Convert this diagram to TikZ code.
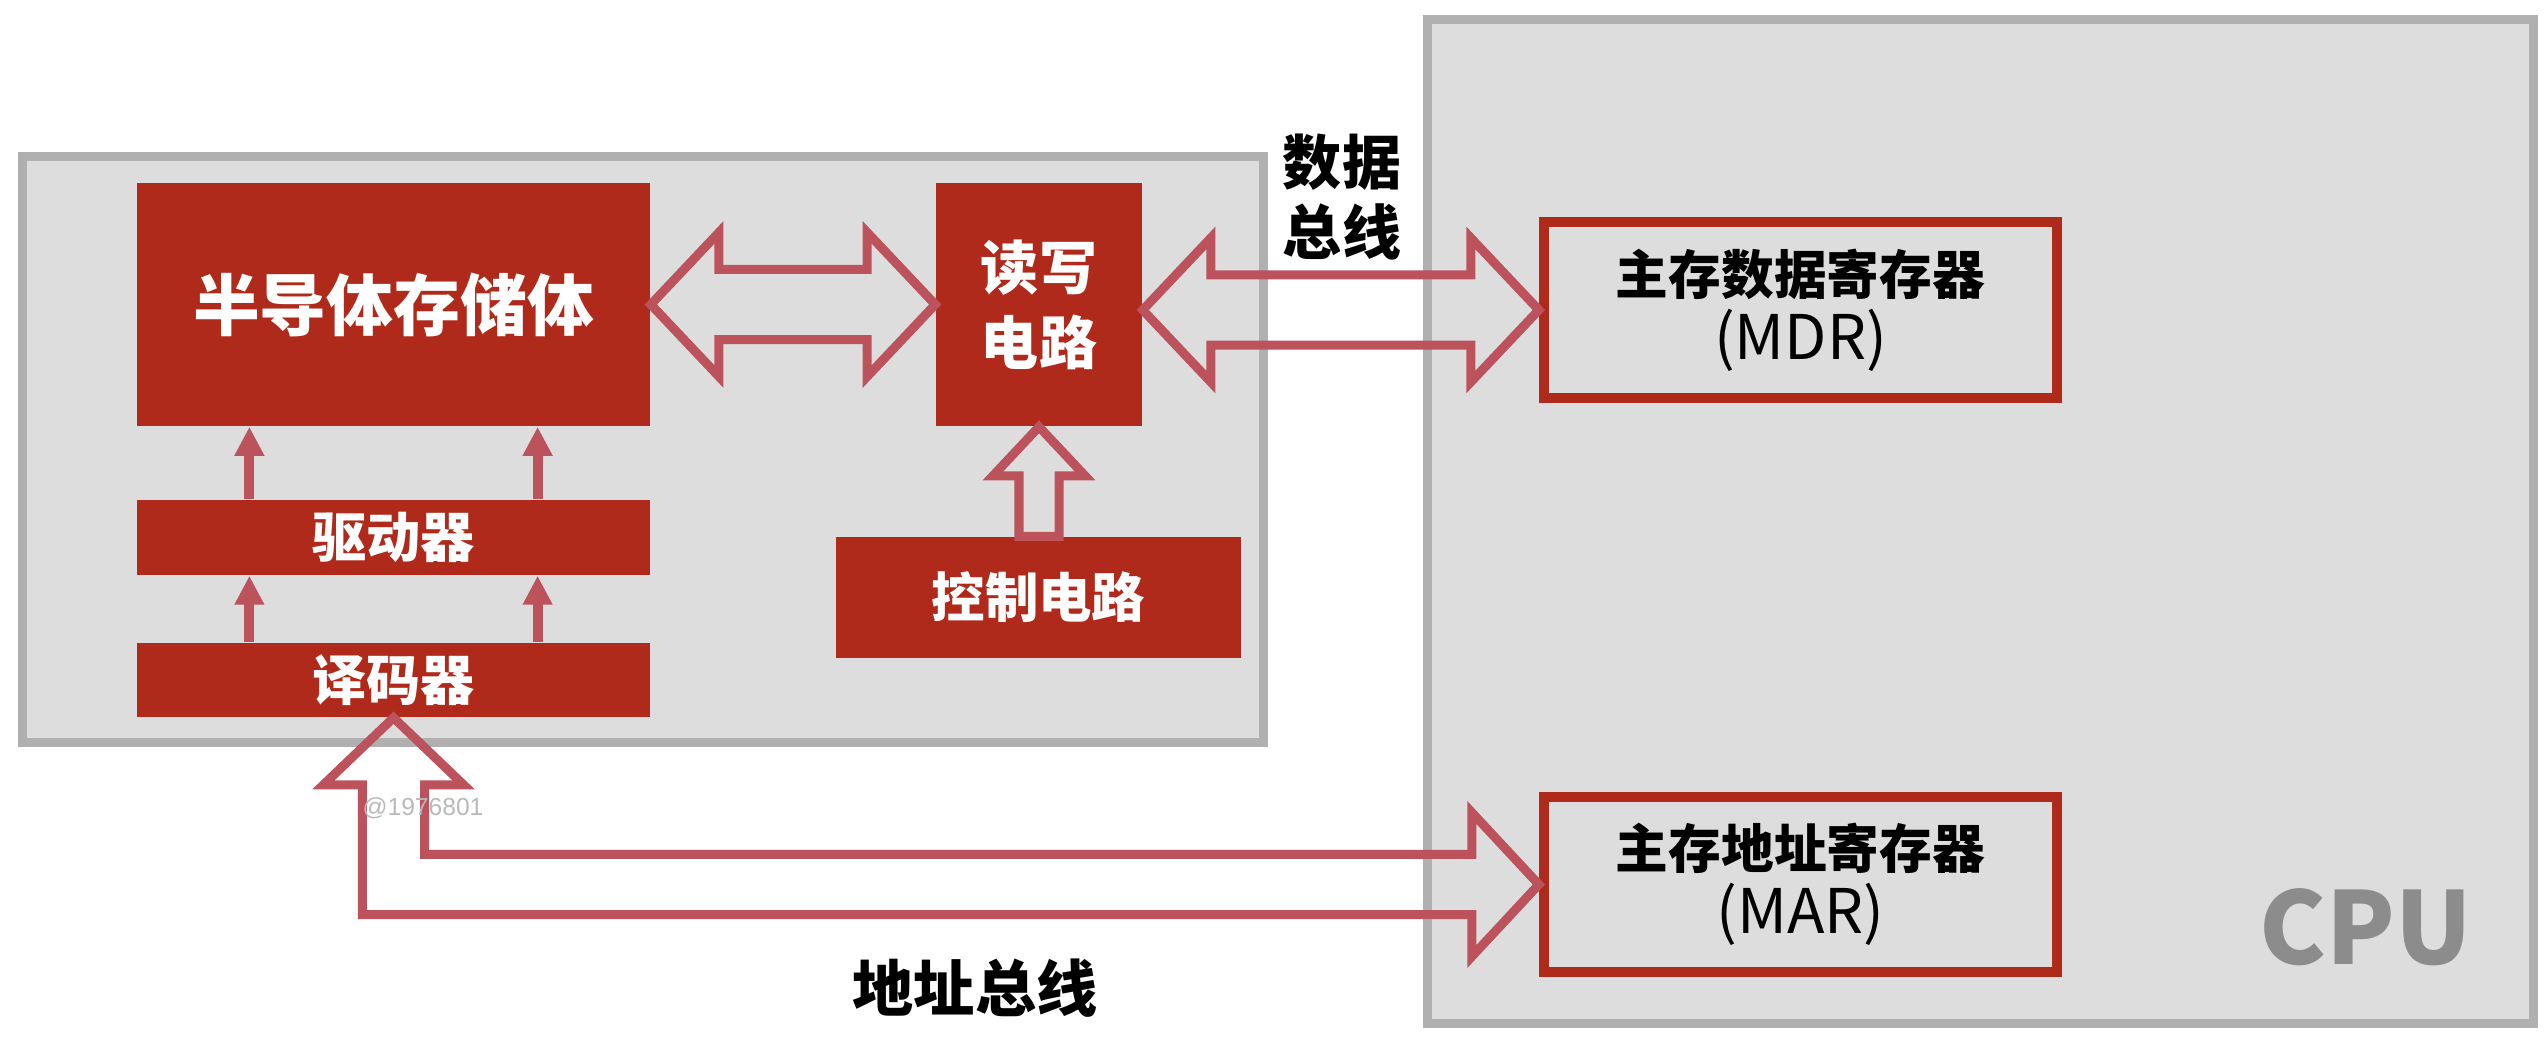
\documentclass[tikz,border=0pt]{standalone}
\usepackage{fontspec}
\setmainfont{Noto Sans CJK SC}
\setsansfont{Noto Sans CJK SC}
\newfontfamily\wmfont{Liberation Sans}
\usetikzlibrary{arrows.meta,calc}
\definecolor{boxred}{RGB}{176,42,27}
\definecolor{arrred}{RGB}{188,82,92}
\definecolor{panel}{RGB}{221,221,221}
\definecolor{panelline}{RGB}{176,176,176}
\definecolor{cputext}{RGB}{140,140,140}
\definecolor{wmgray}{RGB}{185,185,185}
\newcommand\hdblarrow[2]{%
  \draw[barrow] let \p1=(#1), \p2=(#2) in
    (\x1,\y1) -- ({\x1+0.68cm},{\y1+0.72cm}) -- ({\x1+0.68cm},{\y1+0.35cm})
    -- ({\x2-0.68cm},{\y1+0.35cm}) -- ({\x2-0.68cm},{\y1+0.72cm}) -- (\x2,\y1)
    -- ({\x2-0.68cm},{\y1-0.72cm}) -- ({\x2-0.68cm},{\y1-0.35cm})
    -- ({\x1+0.68cm},{\y1-0.35cm}) -- ({\x1+0.68cm},{\y1-0.72cm}) -- cycle;}
\begin{document}
\begin{tikzpicture}[x=0.01cm,y=-0.01cm,
  panelbox/.style={draw=panelline, fill=panel, line width=0.09cm, inner sep=0pt, rectangle},
  redbox/.style={fill=boxred, inner sep=0pt, rectangle, text=white, align=center, font=\bfseries},
  regbox/.style={draw=boxred, line width=0.1cm, inner sep=0pt, rectangle, align=center, text=black},
  barrow/.style={draw=arrred, line width=0.09cm, line join=miter},
  sarrow/.style={draw=arrred, line width=0.1cm, -{Triangle[length=0.29cm,width=0.28cm]}},
  lbl/.style={inner sep=0pt, align=center, font=\bfseries}]
\useasboundingbox (0,0) rectangle (2548,1040);

% panels
\node[panelbox, minimum width=12.41cm, minimum height=5.86cm] (memory) at (643,449.5) {};
\node[panelbox, minimum width=11.05cm, minimum height=10.03cm] (cpu) at (1980.5,521.5) {};

% red boxes in memory
\node[redbox, minimum width=5.13cm, minimum height=2.43cm, font=\bfseries\fontsize{19}{22}\selectfont] (mem) at (393.5,304.5) {半导体存储体};
\node[redbox, minimum width=2.06cm, minimum height=2.43cm, font=\bfseries\fontsize{16.5}{21.3}\selectfont] (rw) at (1039,304.5) {读写\\电路};
\node[redbox, minimum width=5.13cm, minimum height=0.75cm, font=\bfseries\fontsize{15.4}{18}\selectfont] (drv) at (393.5,537.5) {驱动器};
\node[redbox, minimum width=5.13cm, minimum height=0.74cm, font=\bfseries\fontsize{15.4}{18}\selectfont] (dec) at (393.5,680) {译码器};
\node[redbox, minimum width=4.05cm, minimum height=1.21cm, font=\bfseries\fontsize{15.2}{18}\selectfont] (ctrl) at (1038.5,597.5) {控制电路};

% CPU registers
\node[regbox, minimum width=5.13cm, minimum height=1.76cm, font=\fontsize{15}{18.5}\selectfont] (mdr) at (1800.5,310) {\textbf{主存数据寄存器}\\{\fontsize{17.5}{18.5}\selectfont(MDR)}};
\node[regbox, minimum width=5.13cm, minimum height=1.75cm, font=\fontsize{15}{18.5}\selectfont] (mar) at (1800.5,884.5) {\textbf{主存地址寄存器}\\{\fontsize{17.5}{18.5}\selectfont(MAR)}};

% small solid arrows
\coordinate (d1) at ($(drv.north west)!0.22!(drv.north east)$);
\coordinate (d2) at ($(drv.north west)!0.78!(drv.north east)$);
\coordinate (e1) at ($(dec.north west)!0.22!(dec.north east)$);
\coordinate (e2) at ($(dec.north west)!0.78!(dec.north east)$);
\draw[sarrow] (d1) -- (d1 |- mem.south);
\draw[sarrow] (d2) -- (d2 |- mem.south);
\draw[sarrow] (e1) -- (e1 |- drv.south);
\draw[sarrow] (e2) -- (e2 |- drv.south);

% block double arrows
\hdblarrow{mem.east}{rw.west}
\coordinate (dbl) at (rw.east |- mdr.west);
\hdblarrow{dbl}{mdr.west}

% control -> read/write
\draw[barrow] let \p1=(rw.south), \p2=(ctrl.north) in
  (\x1,\y1) -- ({\x1+0.46cm},{\y1-0.49cm}) -- ({\x1+0.2cm},{\y1-0.49cm})
  -- ({\x1+0.2cm},\y2) -- ({\x1-0.2cm},\y2) -- ({\x1-0.2cm},{\y1-0.49cm})
  -- ({\x1-0.46cm},{\y1-0.49cm}) -- cycle;

% address bus
\draw[barrow] let \p1=(dec.south), \p2=(mar.west) in
  (\x1,\y1) -- ({\x1+0.70cm},{\y1-0.67cm}) -- ({\x1+0.31cm},{\y1-0.67cm})
  -- ({\x1+0.31cm},{\y2+0.30cm}) -- ({\x2-0.67cm},{\y2+0.30cm})
  -- ({\x2-0.67cm},{\y2+0.72cm}) -- (\x2,\y2) -- ({\x2-0.67cm},{\y2-0.72cm})
  -- ({\x2-0.67cm},{\y2-0.30cm}) -- ({\x1-0.31cm},{\y2-0.30cm})
  -- ({\x1-0.31cm},{\y1-0.67cm}) -- ({\x1-0.70cm},{\y1-0.67cm}) -- cycle;

% labels
\node[lbl, font=\bfseries\fontsize{16.8}{20}\selectfont] (dbus) at (1342,197) {数据\\总线};
\node[lbl, font=\bfseries\fontsize{17.4}{20}\selectfont] (abus) at (975,988) {地址总线};
\node[lbl, text=cputext, font=\bfseries\fontsize{28.5}{30}\selectfont] (cpulbl) at (2366,927) {CPU};
\node[inner sep=0pt, text=wmgray, font=\wmfont\fontsize{7}{8}\selectfont] (wm) at (423,808) {@1976801};
\end{tikzpicture}
\end{document}
